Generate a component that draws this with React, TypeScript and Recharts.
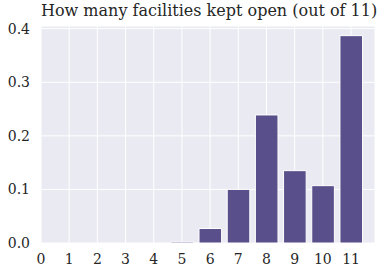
import React from "react";
import { BarChart, Bar, XAxis, YAxis, CartesianGrid } from "recharts";

const facilities = [0, 1, 2, 3, 4, 5, 6, 7, 8, 9, 10, 11];
const shares = [0, 0, 0, 0, 0, 0.002, 0.027, 0.1, 0.239, 0.135, 0.107, 0.387];
const yTicks = [0, 0.1, 0.2, 0.3, 0.4];
const title = "How many facilities kept open (out of 11)";

const data = facilities.map((x, i) => ({ x, share: shares[i] }));

const font = "'DejaVu Serif', serif";
const textColor = "#262626";

export default function App() {
  return (
    <div style={{ position: "absolute", left: 0, top: 0, width: 387, height: 274, background: "#fff" }}>
      <div
        style={{
          position: "absolute",
          left: 41,
          width: 334,
          top: 1,
          textAlign: "center",
          fontFamily: font,
          fontSize: 16,
          color: textColor,
          whiteSpace: "nowrap",
        }}
      >
        {title}
      </div>
      <BarChart
        width={387}
        height={274}
        data={data}
        margin={{ top: 26, right: 12, bottom: 0, left: 0 }}
      >
        <CartesianGrid fill="#EAEAF2" stroke="#ffffff" strokeWidth={1} />
        <XAxis
          type="number"
          dataKey="x"
          domain={[0, 11.85]}
          ticks={facilities}
          allowDataOverflow
          axisLine={false}
          tickLine={false}
          tickSize={0}
          tickMargin={11}
          height={31}
          interval={0}
          tick={{ fontFamily: font, fontSize: 14, fill: textColor }}
        />
        <YAxis
          type="number"
          domain={[0, 0.405]}
          ticks={yTicks}
          allowDataOverflow
          axisLine={false}
          tickLine={false}
          tickSize={0}
          tickMargin={11}
          width={41}
          tickFormatter={(v: number) => v.toFixed(1)}
          tick={{ fontFamily: font, fontSize: 14, fill: textColor }}
        />
        <Bar
          dataKey="share"
          fill="#594F8A"
          stroke="#ffffff"
          strokeWidth={1}
          barSize={22.6}
          isAnimationActive={false}
        />
      </BarChart>
    </div>
  );
}
